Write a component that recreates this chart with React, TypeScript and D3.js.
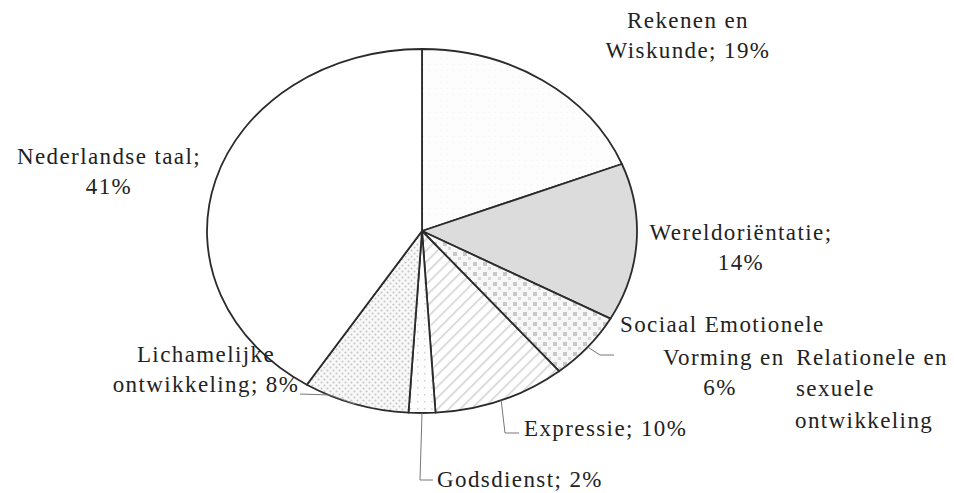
import React, { useEffect, useRef } from 'react';
import * as d3 from 'd3';

// Lesson time per subject (percent)
const subjects = [
  'Rekenen en Wiskunde',
  'Wereldoriëntatie',
  'Sociaal Emotionele Vorming en Relationele en sexuele ontwikkeling',
  'Expressie',
  'Godsdienst',
  'Lichamelijke ontwikkeling',
  'Nederlandse taal',
];
const shares = [19, 14, 6, 10, 2, 8, 41];
const fills = ['url(#pRek)', '#dcdcdc', 'url(#pSoc)', 'url(#pExp)', 'url(#pGod)', 'url(#pLich)', '#ffffff'];

// label text, split into lines as printed
const labelLines: string[][] = [
  ['Rekenen en', 'Wiskunde; 19%'],
  ['Wereldoriëntatie;', '14%'],
  ['Sociaal Emotionele', 'Vorming en', 'Relationele en', '6%', 'sexuele', 'ontwikkeling'],
  ['Expressie; 10%'],
  ['Godsdienst; 2%'],
  ['Lichamelijke', 'ontwikkeling; 8%'],
  ['Nederlandse taal;', '41%'],
];

const W = 954;
const H = 493;

const App: React.FC = () => {
  const svgRef = useRef<SVGSVGElement>(null);

  useEffect(() => {
    if (!svgRef.current) return;
    const svg = d3.select(svgRef.current);
    svg.selectAll('*').remove();

    const cx = 422, cy = 231, rx = 215, ry = 182;
    const sx = rx / ry;

    // patterns
    const defs = svg.append('defs');
    const comp = `scale(${1 / sx},1)`;

    const rek = defs.append('pattern').attr('id', 'pRek').attr('patternUnits', 'userSpaceOnUse')
      .attr('width', 6).attr('height', 6).attr('patternTransform', comp);
    rek.append('rect').attr('width', 6).attr('height', 6).attr('fill', '#fdfdfd');
    rek.append('rect').attr('x', 1).attr('y', 1).attr('width', 1).attr('height', 1).attr('fill', '#f2f2f2');

    const soc = defs.append('pattern').attr('id', 'pSoc').attr('patternUnits', 'userSpaceOnUse')
      .attr('width', 10).attr('height', 10).attr('patternTransform', comp);
    soc.append('rect').attr('width', 10).attr('height', 10).attr('fill', '#f7f7f7');
    soc.append('rect').attr('x', 1).attr('y', 1).attr('width', 4).attr('height', 4).attr('fill', '#c8c8c8');
    soc.append('rect').attr('x', 6).attr('y', 6).attr('width', 3).attr('height', 3).attr('fill', '#d8d8d8');

    const exp = defs.append('pattern').attr('id', 'pExp').attr('patternUnits', 'userSpaceOnUse')
      .attr('width', 8).attr('height', 8).attr('patternTransform', `${comp} rotate(-45)`);
    exp.append('rect').attr('width', 8).attr('height', 8).attr('fill', '#ffffff');
    exp.append('rect').attr('x', 0).attr('y', 0).attr('width', 8).attr('height', 1.6).attr('fill', '#d4d4d4');

    const god = defs.append('pattern').attr('id', 'pGod').attr('patternUnits', 'userSpaceOnUse')
      .attr('width', 7).attr('height', 7).attr('patternTransform', comp);
    god.append('rect').attr('width', 7).attr('height', 7).attr('fill', '#fdfdfd');
    god.append('rect').attr('x', 2).attr('y', 2).attr('width', 1.5).attr('height', 1.5).attr('fill', '#d4d4d4');

    const lich = defs.append('pattern').attr('id', 'pLich').attr('patternUnits', 'userSpaceOnUse')
      .attr('width', 6).attr('height', 6).attr('patternTransform', comp);
    lich.append('rect').attr('width', 6).attr('height', 6).attr('fill', '#f8f8f8');
    lich.append('circle').attr('cx', 1.5).attr('cy', 1.5).attr('r', 1).attr('fill', '#c4c4c4');
    lich.append('circle').attr('cx', 4.5).attr('cy', 4.5).attr('r', 1).attr('fill', '#c4c4c4');

    const data = subjects.map((s, i) => ({ name: s, value: shares[i], fill: fills[i] }));
    const pie = d3.pie<typeof data[number]>().sort(null).value(d => d.value);
    const arcs = pie(data);
    const arc = d3.arc<d3.PieArcDatum<typeof data[number]>>().innerRadius(0).outerRadius(ry);

    const g = svg.append('g').attr('transform', `translate(${cx},${cy}) scale(${sx},1)`);
    g.selectAll('path')
      .data(arcs)
      .enter().append('path')
      .attr('d', arc)
      .attr('fill', d => d.data.fill)
      .attr('stroke', '#2b2b2b')
      .attr('stroke-width', 1.8)
      .attr('stroke-linejoin', 'round')
      .attr('vector-effect', 'non-scaling-stroke');

    // point on the ellipse rim at the middle of a slice
    const rim = (i: number) => {
      const a = (arcs[i].startAngle + arcs[i].endAngle) / 2;
      return [cx + rx * Math.sin(a), cy - ry * Math.cos(a)];
    };

    // leader lines: Sociaal, Expressie, Godsdienst, Lichamelijke
    const leaders: [number, number[][]][] = [
      [2, [[600, 355], [614, 355]]],
      [3, [[505, 433], [519, 433]]],
      [4, [[420, 480], [433, 480]]],
      [5, [[330, 395], [300, 394]]],
    ];
    const line = d3.line();
    leaders.forEach(([i, pts]) => {
      const p = rim(i);
      svg.append('path')
        .attr('d', line([p as [number, number], ...(pts as [number, number][])]))
        .attr('fill', 'none')
        .attr('stroke', '#777')
        .attr('stroke-width', 1);
    });

    // label placement: [x, y of first baseline, anchor]
    const labelPos: [number, number, string][] = [
      [688, 28, 'middle'],
      [741, 240, 'middle'],
      [620, 332, 'start'],
      [524, 436, 'start'],
      [437, 487, 'start'],
      [206, 362, 'middle'],
      [109, 164, 'middle'],
    ];
    const socLines: [number, number, string][] = [
      [620, 332, 'start'],
      [663, 365, 'start'],
      [948, 365, 'end'],
      [720, 395, 'middle'],
      [796, 396, 'start'],
      [795, 428, 'start'],
    ];

    labelLines.forEach((lines, i) => {
      lines.forEach((ln, j) => {
        const [x, y, anchor] = i === 2 ? socLines[j] : [labelPos[i][0], labelPos[i][1] + j * 30, labelPos[i][2]];
        svg.append('text')
          .attr('x', x)
          .attr('y', y)
          .attr('text-anchor', anchor)
          .attr('font-family', 'Liberation Serif, DejaVu Serif, serif')
          .attr('font-size', 23)
          .attr('letter-spacing', 1.4)
          .attr('fill', '#222')
          .text(ln);
      });
    });
  }, []);

  return (
    <svg
      ref={svgRef}
      width={W}
      height={H}
      style={{ position: 'absolute', left: 0, top: 0, background: '#fff' }}
    />
  );
};

export default App;
